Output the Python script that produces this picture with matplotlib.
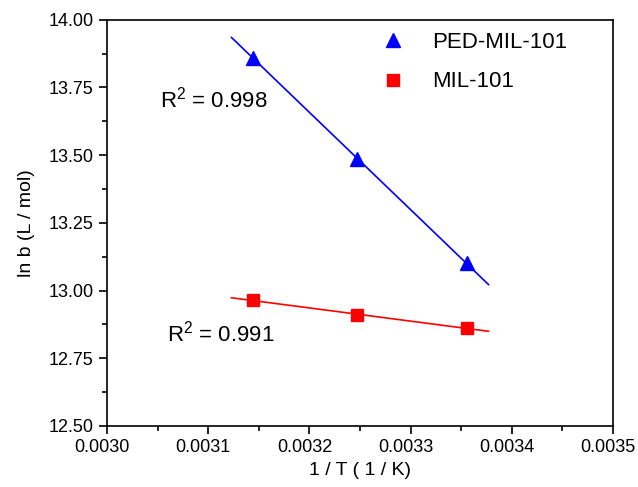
import numpy as np
import matplotlib
matplotlib.use("Agg")
import matplotlib.pyplot as plt
import matplotlib.transforms as mtransforms
from matplotlib.ticker import MultipleLocator, AutoMinorLocator

plt.rcParams['font.family'] = ['Liberation Sans', 'DejaVu Sans']

# datos
inv_T = [0.0031447, 0.0032468, 0.0033557]
ln_b_ped = [13.859, 13.485, 13.101]
ln_b_mil = [12.965, 12.909, 12.862]
fit_range = [0.003123, 0.003377]
r2_ped = 0.998
r2_mil = 0.991

fig = plt.figure(figsize=(6.38, 4.87), dpi=100)
ax = fig.add_axes([107/638, 1 - 426/487, (613 - 107)/638, (426 - 19.7)/487])

xs = np.linspace(fit_range[0], fit_range[1], 50)
p1 = np.polyfit(inv_T, ln_b_ped, 1)
p2 = np.polyfit(inv_T, ln_b_mil, 1)
ax.plot(xs, np.polyval(p1, xs), color='#0000ff', lw=1.2)
ax.plot(xs, np.polyval(p2, xs), color='#ff0000', lw=1.2)
ax.plot(inv_T, ln_b_ped, '^', color='#0000ff', ms=10, ls='none', label='PED-MIL-101')
ax.plot(inv_T, ln_b_mil, 's', color='#ff0000', ms=9, ls='none', label='MIL-101')

ax.text(0.003052, 13.707, '$\\mathregular{R^2}$ = %.3f' % r2_ped, fontsize=16, va='center')
ax.text(0.003059, 12.843, '$\\mathregular{R^2}$ = %.3f' % r2_mil, fontsize=16, va='center')

ax.set_xlim(0.0030, 0.0035)
ax.set_ylim(12.5, 14.0)
ax.xaxis.set_major_locator(MultipleLocator(0.0001))
ax.xaxis.set_minor_locator(AutoMinorLocator(2))
ax.yaxis.set_major_locator(MultipleLocator(0.25))
ax.yaxis.set_minor_locator(AutoMinorLocator(2))
ax.xaxis.set_major_formatter(matplotlib.ticker.FormatStrFormatter('%.4f'))
ax.yaxis.set_major_formatter(matplotlib.ticker.FormatStrFormatter('%.2f'))
ax.tick_params(which='major', direction='out', length=6, width=1.2, labelsize=13)
ax.tick_params(which='minor', direction='out', length=3.5, width=1.2)
for s in ax.spines.values():
    s.set_linewidth(1.2)

# las etiquetas del eje x quedan un poco a la izquierda, como en la figura original
desplaza = mtransforms.ScaledTranslation(-5/100, 0, fig.dpi_scale_trans)
for lbl in ax.get_xticklabels():
    lbl.set_transform(lbl.get_transform() + desplaza)

ax.set_xlabel('1 / T ( 1 / K)', fontsize=14, labelpad=4)
ax.set_ylabel('ln b (L / mol)', fontsize=14, labelpad=10)

ax.legend(loc='upper right', frameon=False, fontsize=16, handletextpad=0.8,
          bbox_to_anchor=(0.95, 1.02), labelspacing=0.85)

fig.savefig('out.png', dpi=100)
